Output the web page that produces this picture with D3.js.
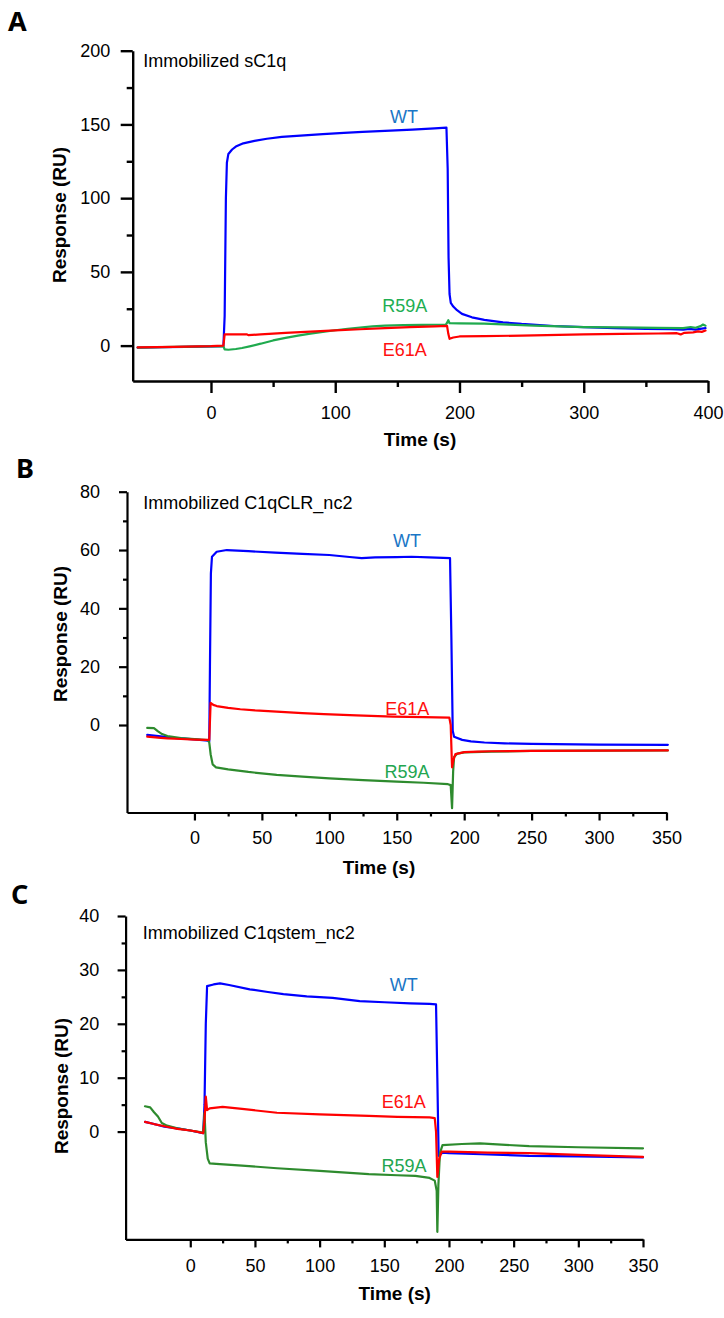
<!DOCTYPE html>
<html><head><meta charset="utf-8">
<script src="https://cdn.jsdelivr.net/npm/d3@7"></script>
<style>
body{margin:0;background:#fff}
svg{display:block}
text{font-family:"Liberation Sans",Arial,sans-serif}
</style>
</head><body>
<svg id="chart" width="724" height="1318"></svg>
<script>
// ---------------- DATA ----------------
const seriesNames = ["WT", "R59A", "E61A"];

// Panel A : Immobilized sC1q
const aTitle = "Immobilized sC1q";
const aXTicks = [0, 100, 200, 300, 400];
const aXMinor = [50, 150, 250, 350];
const aYTicks = [0, 50, 100, 150, 200];
const aYMinor = [25, 75, 125, 175];
const aWT = [[-59,-1.4],[-40,-1.1],[-20,-0.8],[0,-0.5],[10,-0.3],[11,20],[12,100],[12.8,124],[14,130],[17,133],[20,135],[26,137.2],[35,138.8],[45,140.3],[57,141.5],[75,142.6],[90,143.4],[107,144.3],[122,144.9],[140,145.6],[162,146.5],[180,147.3],[189.5,147.8],[190.5,120],[191.2,60],[192,35],[193,29],[195,26.5],[198,24],[202,21.5],[210,19.2],[220,17.5],[235,15.8],[250,14.7],[276,13.3],[300,12.5],[325,11.9],[350,11.4],[370,11.2],[380,10.8],[385,11.3],[390,10.8],[395,11.5],[398,11.8]];
const aR59A = [[-59,-1.3],[-30,-0.9],[0,-0.5],[10,-0.3],[11,-2.6],[14,-2.8],[20,-2.3],[25,-1.6],[32,-0.3],[40,1.3],[50,3.5],[60,5.2],[70,6.8],[80,8.1],[90,9.3],[100,10.4],[110,11.4],[120,12.3],[130,13],[140,13.5],[155,13.9],[170,14.1],[189,14.3],[190,15.5],[191,17.2],[192,15.2],[200,15.1],[220,14.9],[240,14.2],[260,13.5],[280,13],[300,12.6],[330,12.3],[360,12],[380,11.9],[386,12.6],[390,12.1],[394,13.2],[396,14.3],[398,13.5]];
const aE61A = [[-59,-1.2],[-30,-0.9],[0,-0.4],[10,0],[11,7.6],[20,7.7],[29,7.6],[30,7.1],[40,7.6],[60,8.6],[80,9.5],[100,10.3],[120,11.1],[140,11.8],[160,12.5],[180,13.1],[190,13.4],[191,8],[192,4.6],[195,5.5],[200,6.2],[220,6.4],[250,6.8],[280,7.3],[300,7.6],[330,7.9],[360,8.2],[375,8.4],[378,7.6],[381,8.7],[388,9],[392,9.6],[395,9.3],[398,10.2]];

// Panel B : Immobilized C1qCLR_nc2
const bTitle = "Immobilized C1qCLR_nc2";
const bXTicks = [0, 50, 100, 150, 200, 250, 300, 350];
const bXMinor = [25, 75, 125, 175, 225, 275, 325];
const bYTicks = [0, 20, 40, 60, 80];
const bYMinor = [10, 30, 50, 70];
const bWT = [[-35,-3.4],[-25,-3.9],[-15,-4.4],[0,-4.9],[10,-5.4],[11,-5.6],[11.5,20],[12.2,52],[13,57.7],[16.5,59.4],[24,60],[40,59.6],[60,59.1],[80,58.7],[100,58.3],[115,57.6],[124,57.2],[134,57.5],[150,57.6],[161,57.7],[174,57.5],[189.5,57.2],[190.5,30],[191.5,-2],[192.5,-4],[198.5,-5.1],[205,-5.6],[215,-6],[230,-6.3],[250,-6.5],[300,-6.7],[351,-6.8]];
const bR59A = [[-35,-1],[-30,-1.1],[-27,-2.2],[-24,-3.1],[-20,-3.8],[-10,-4.5],[0,-4.8],[10,-5.2],[11,-6],[12,-10],[13.5,-13.5],[16,-14.5],[25,-15.2],[40,-16.1],[61,-17.1],[80,-17.7],[100,-18.3],[125,-18.9],[150,-19.4],[170,-19.8],[188,-20.3],[190,-20.6],[191,-28.5],[191.8,-16],[192.5,-11],[195,-9.8],[200,-9.4],[220,-9.1],[250,-8.9],[300,-8.8],[351,-8.7]];
const bE61A = [[-35,-4],[-25,-4.4],[-20,-4.6],[-10,-4.8],[0,-5],[9,-5.1],[11,-5],[12,7.6],[14,6.9],[16.5,6.5],[25,5.9],[34,5.4],[45,5],[61,4.6],[80,4.1],[96,3.7],[120,3.3],[147,2.9],[170,2.7],[189,2.5],[190,0],[191,-14.5],[192,-12],[193.5,-10],[200,-9.3],[210,-9.1],[220,-9],[250,-8.9],[300,-8.8],[351,-8.7]];

// Panel C : Immobilized C1qstem_nc2
const cTitle = "Immobilized C1qstem_nc2";
const cXTicks = [0, 50, 100, 150, 200, 250, 300, 350];
const cXMinor = [25, 75, 125, 175, 225, 275, 325];
const cYTicks = [0, 10, 20, 30, 40];
const cYMinor = [5, 15, 25, 35];
const cWT = [[-35,1.8],[-28,1.4],[-20,0.9],[-10,0.6],[0,0.2],[10,-0.3],[11,5],[12,20],[13,27],[18,27.3],[23,27.5],[30,27.2],[46,26.4],[60,25.9],[72,25.5],[90,25.1],[110,24.8],[131,24.2],[150,24],[170,23.8],[185,23.7],[190,23.6],[191,10],[192,-4.5],[195,-3.9],[200,-4],[225,-4.2],[262,-4.5],[300,-4.6],[350,-4.8]];
const cR59A = [[-35,4.7],[-31,4.5],[-28,3.6],[-25,2.8],[-22,1.6],[-18,1.1],[-10,0.6],[0,0.2],[10,-0.2],[11,3.5],[12,-2],[13.5,-5],[15,-5.9],[20,-6],[40,-6.3],[67,-6.8],[100,-7.3],[138,-7.9],[160,-8.1],[174,-8.2],[185,-8.6],[189,-9.1],[190.5,-11],[191,-18.6],[191.8,-10],[193,-4],[195,-2.5],[210,-2.3],[224,-2.2],[262,-2.7],[300,-2.9],[350,-3.1]];
const cE61A = [[-35,1.8],[-28,1.4],[-20,1],[-10,0.5],[0,0.2],[5,0],[10,-0.3],[11,2],[12,6.5],[13,4],[15,4.3],[25,4.6],[40,4.2],[67,3.5],[100,3.2],[138,2.9],[160,2.75],[185,2.65],[189,2.5],[190,0],[191,-8.4],[192.5,-5],[194.4,-3.7],[200,-3.7],[230,-3.9],[262,-4],[300,-4.3],[350,-4.7]];

const xTitle = "Time (s)";
const yTitle = "Response (RU)";

// ---------------- LAYOUT / STYLE ----------------
const panels = [
  { letter:"A", title:aTitle, xDom:[-63,400], xRange:[132.7,708], yDom:[-24,200], yRange:[381,50.7],
    xTicks:aXTicks, xMinor:aXMinor, yTicks:aYTicks, yMinor:aYMinor,
    series:[aWT,aR59A,aE61A], green:"#1faa4e", labelGreen:"#1fae52",
    major:12, minor:6, padX:13, padY:10.5, axisW:2.4,
    letterPos:[8,30.5], titlePos:[143.3,66.7], xTitlePos:[420,446], yTitlePos:[59,215],
    labels:[[404,122.7],[404.7,311.7],[404.7,356]] },
  { letter:"B", title:bTitle, xDom:[-50,350], xRange:[127,666.5], yDom:[-30,80], yRange:[812.5,491.7],
    xTicks:bXTicks, xMinor:bXMinor, yTicks:bYTicks, yMinor:bYMinor,
    series:[bWT,bR59A,bE61A], green:"#2e8b2e", labelGreen:"#23a650",
    major:8, minor:4, padX:10.5, padY:19, axisW:2.2,
    letterPos:[16,478.3], titlePos:[143.3,509.3], xTitlePos:[379,874], yTitlePos:[60.5,634],
    labels:[[407,547.3],[407,778.3],[407.3,715]] },
  { letter:"C", title:cTitle, xDom:[-50,350], xRange:[125.6,643], yDom:[-20,40], yRange:[1239.4,916],
    xTicks:cXTicks, xMinor:cXMinor, yTicks:cYTicks, yMinor:cYMinor,
    series:[cWT,cR59A,cE61A], green:"#2e8b2e", labelGreen:"#23a650",
    major:8, minor:4, padX:12, padY:18.3, axisW:2.2,
    letterPos:[11,904], titlePos:[142.7,939], xTitlePos:[394.7,1300], yTitlePos:[61.5,1086],
    labels:[[403.7,990.7],[404,1172],[403.7,1108.3]] }
];
const lineBlue = "#0000ff", lineRed = "#ff0000";
const labelBlue = "#1a76c6", labelRed = "#ff1010";

// ---------------- DRAW ----------------
const svg = d3.select("#chart");
svg.append("rect").attr("width",724).attr("height",1318).attr("fill","#fff");

panels.forEach(p => {
  const g = svg.append("g");
  const x = d3.scaleLinear().domain(p.xDom).range(p.xRange);
  const y = d3.scaleLinear().domain(p.yDom).range(p.yRange);
  const xAxisY = p.yRange[0], yAxisX = p.xRange[0];

  // minor ticks
  g.append("g").attr("transform",`translate(0,${xAxisY})`)
    .call(d3.axisBottom(x).tickValues(p.xMinor).tickSize(p.minor).tickFormat(()=>""))
    .call(s=>s.select(".domain").remove())
    .call(s=>s.selectAll("line").attr("stroke","#000").attr("stroke-width",p.axisW));
  g.append("g").attr("transform",`translate(${yAxisX},0)`)
    .call(d3.axisLeft(y).tickValues(p.yMinor).tickSize(p.minor).tickFormat(()=>""))
    .call(s=>s.select(".domain").remove())
    .call(s=>s.selectAll("line").attr("stroke","#000").attr("stroke-width",p.axisW));

  // major axes
  const xa = g.append("g").attr("transform",`translate(0,${xAxisY})`)
    .call(d3.axisBottom(x).tickValues(p.xTicks).tickSize(p.major).tickSizeOuter(0).tickPadding(p.padX).tickFormat(d3.format("d")));
  const ya = g.append("g").attr("transform",`translate(${yAxisX},0)`)
    .call(d3.axisLeft(y).tickValues(p.yTicks).tickSize(p.major).tickSizeOuter(0).tickPadding(p.padY).tickFormat(d3.format("d")));
  [xa,ya].forEach(a=>{
    a.select(".domain").attr("stroke","#000").attr("stroke-width",p.axisW);
    a.selectAll("line").attr("stroke","#000").attr("stroke-width",p.axisW);
    a.selectAll("text").attr("fill","#000").style("font-size","18px")
      .style("font-family","'Liberation Sans', Arial, sans-serif");
  });

  // curves: WT (blue), R59A (green), E61A (red on top)
  const line = d3.line().x(d=>x(d[0])).y(d=>y(d[1]));
  const colors = [lineBlue, p.green, lineRed];
  p.series.forEach((s,i)=>{
    g.append("path").datum(s).attr("d",line).attr("fill","none")
      .attr("stroke",colors[i]).attr("stroke-width",2.2)
      .attr("stroke-linejoin","round").attr("stroke-linecap","round");
  });

  // series labels
  const lcolors = [labelBlue, p.labelGreen, labelRed];
  seriesNames.forEach((n,i)=>{
    g.append("text").attr("x",p.labels[i][0]).attr("y",p.labels[i][1])
      .attr("text-anchor","middle").attr("fill",lcolors[i]).style("font-size","18px").text(n);
  });

  // panel title
  g.append("text").attr("x",p.titlePos[0]).attr("y",p.titlePos[1])
    .attr("fill","#000").style("font-size","18px").text(p.title);

  // axis titles
  g.append("text").attr("x",p.xTitlePos[0]).attr("y",p.xTitlePos[1])
    .attr("text-anchor","middle").style("font-size","19px").style("font-weight","bold").text(xTitle);
  g.append("text").attr("transform",`translate(${p.yTitlePos[0]},${p.yTitlePos[1]}) rotate(-90)`)
    .attr("text-anchor","middle").attr("dy","0.35em").style("font-size","19px").style("font-weight","bold").text(yTitle);

  // panel letter
  g.append("text").attr("x",p.letterPos[0]).attr("y",p.letterPos[1])
    .style("font-family","'Noto Sans', 'Open Sans', sans-serif").style("font-size","27px")
    .style("font-weight","bold").attr("fill","#000").text(p.letter);
});
</script>
</body></html>
